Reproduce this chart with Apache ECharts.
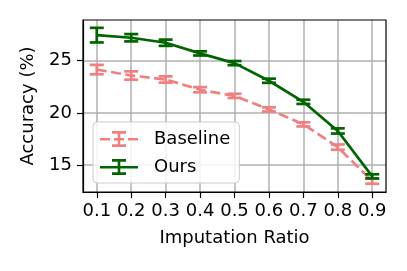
<!DOCTYPE html>
<html><head><meta charset="utf-8">
<script src="https://cdn.jsdelivr.net/npm/echarts@6/dist/echarts.min.js"></script>
<style>html,body{margin:0;padding:0;background:#fff}#c{width:407px;height:271px}</style>
</head><body><div id="c"></div>
<script>
const ratios = [0.1, 0.2, 0.3, 0.4, 0.5, 0.6, 0.7, 0.8, 0.9];
const baseline = [24.15, 23.58, 23.2, 22.22, 21.63, 20.33, 18.9, 16.72, 13.46];
const baselineErr = [0.45, 0.4, 0.3, 0.25, 0.2, 0.2, 0.2, 0.25, 0.25];
const ours = [27.45, 27.2, 26.72, 25.7, 24.77, 23.08, 21.06, 18.27, 13.92];
const oursErr = [0.7, 0.35, 0.3, 0.2, 0.2, 0.2, 0.2, 0.25, 0.2];
const xTicks = [0.1, 0.2, 0.3, 0.4, 0.5, 0.6, 0.7, 0.8, 0.9];
const yTicks = [15, 20, 25];

const FONT = 'DejaVu Sans';
const BASE_C = '#F08080';
const OURS_C = '#006400';

function errSeries(name, vals, errs, color) {
  return {
    name: name, type: 'custom', z: 3,
    data: ratios.map((r, i) => [r, vals[i] - errs[i], vals[i] + errs[i]]),
    renderItem: function (params, api) {
      const lo = api.coord([api.value(0), api.value(1)]);
      const hi = api.coord([api.value(0), api.value(2)]);
      const hw = 7;
      const st = { stroke: color, lineWidth: 2.7 };
      return { type: 'group', children: [
        { type: 'line', shape: { x1: lo[0], y1: lo[1], x2: hi[0], y2: hi[1] }, style: st },
        { type: 'line', shape: { x1: lo[0] - hw, y1: lo[1], x2: lo[0] + hw, y2: lo[1] }, style: st },
        { type: 'line', shape: { x1: hi[0] - hw, y1: hi[1], x2: hi[0] + hw, y2: hi[1] }, style: st }
      ]};
    }
  };
}

const oursIcon = 'path://M0,7 L38,7 L38,9.6 L0,9.6 Z M17.7,0 L20.3,0 L20.3,16 L17.7,16 Z M12,0 L26,0 L26,2.7 L12,2.7 Z M12,13.3 L26,13.3 L26,16 L12,16 Z';
const baseIcon = 'path://M0,7 L10,7 L10,9.6 L0,9.6 Z M14,7 L24,7 L24,9.6 L14,9.6 Z M28,7 L38,7 L38,9.6 L28,9.6 Z M17.7,0 L20.3,0 L20.3,16 L17.7,16 Z M12,0 L26,0 L26,2.7 L12,2.7 Z M12,13.3 L26,13.3 L26,16 L12,16 Z';

const chart = echarts.init(document.getElementById('c'), null, { renderer: 'canvas' });
chart.setOption({
  animation: false,
  backgroundColor: '#fff',
  textStyle: { fontFamily: FONT },
  grid: { left: 83, right: 21, top: 20, bottom: 79, show: true, borderColor: '#000', borderWidth: 1.2, backgroundColor: 'transparent', z: 1 },
  legend: {
    left: 93, top: 122, orient: 'vertical',
    itemWidth: 38, itemHeight: 16, itemGap: 10,
    padding: [8, 9, 7, 7],
    backgroundColor: 'rgba(255,255,255,0.85)', borderColor: '#cccccc', borderWidth: 1, borderRadius: 4,
    textStyle: { fontFamily: FONT, fontSize: 18, color: '#000', padding: [0, 0, 0, 11] },
    data: [
      { name: 'Baseline', icon: baseIcon, itemStyle: { color: BASE_C } },
      { name: 'Ours', icon: oursIcon, itemStyle: { color: OURS_C } }
    ],
    z: 10
  },
  xAxis: {
    type: 'value', min: 0.06, max: 0.94,
    name: 'Imputation Ratio', nameLocation: 'middle', nameGap: 37,
    nameTextStyle: { fontFamily: FONT, fontSize: 18, color: '#000' },
    axisLine: { show: true, lineStyle: { color: '#000', width: 1.2 } },
    axisTick: { show: true, customValues: xTicks, length: 6, lineStyle: { color: '#000', width: 1.2 } },
    axisLabel: { customValues: xTicks, fontFamily: FONT, fontSize: 18, color: '#000', margin: 10, formatter: v => v.toFixed(1) },
    splitLine: { show: true, lineStyle: { color: '#b0b0b0', width: 1.5 } }
  },
  yAxis: {
    type: 'value', min: 12.42, max: 28.9,
    name: 'Accuracy (%)', nameLocation: 'middle', nameGap: 46,
    nameTextStyle: { fontFamily: FONT, fontSize: 18, color: '#000' },
    axisLine: { show: true, lineStyle: { color: '#000', width: 1.2 } },
    axisTick: { show: true, customValues: yTicks, length: 6, lineStyle: { color: '#000', width: 1.2 } },
    axisLabel: { customValues: yTicks, fontFamily: FONT, fontSize: 18, color: '#000', margin: 11 },
    splitLine: { show: true, lineStyle: { color: '#b0b0b0', width: 1.5 } }
  },
  series: [
    { name: 'Baseline', type: 'line', z: 2, showSymbol: false, data: ratios.map((r, i) => [r, baseline[i]]),
      lineStyle: { color: BASE_C, width: 2.7, type: [10, 4.5] }, itemStyle: { color: BASE_C } },
    errSeries('Baseline', baseline, baselineErr, BASE_C),
    { name: 'Ours', type: 'line', z: 4, showSymbol: false, data: ratios.map((r, i) => [r, ours[i]]),
      lineStyle: { color: OURS_C, width: 2.7 }, itemStyle: { color: OURS_C } },
    Object.assign(errSeries('Ours', ours, oursErr, OURS_C), { z: 5 })
  ]
});
</script></body></html>
